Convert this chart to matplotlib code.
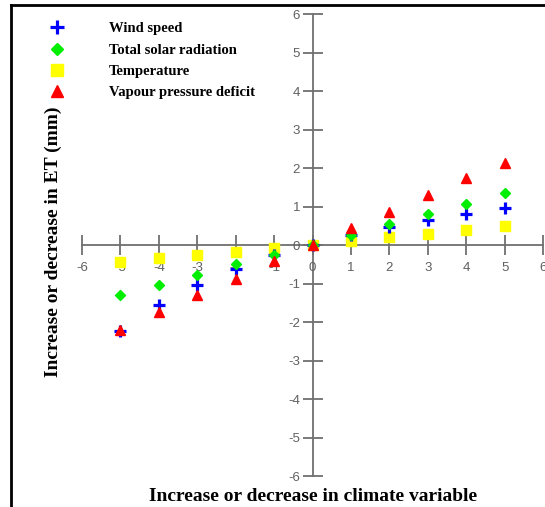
import matplotlib.pyplot as plt
from matplotlib.lines import Line2D

# climate variable change and ET response (mm)
change = [-5, -4, -3, -2, -1, 0, 1, 2, 3, 4, 5]
wind_speed = [-2.23, -1.55, -1.04, -0.63, -0.25, 0, 0.25, 0.46, 0.64, 0.81, 0.96]
solar_radiation = [-1.31, -1.04, -0.79, -0.50, -0.26, 0, 0.27, 0.55, 0.81, 1.07, 1.35]
temperature = [-0.45, -0.33, -0.26, -0.17, -0.07, 0, 0.10, 0.21, 0.29, 0.40, 0.49]
vapour_deficit = [-2.20, -1.74, -1.31, -0.87, -0.42, 0, 0.43, 0.87, 1.30, 1.73, 2.14]

ticks = [-6, -5, -4, -3, -2, -1, 0, 1, 2, 3, 4, 5, 6]

fig = plt.figure(figsize=(5.45, 5.07), dpi=100)
ax = fig.add_axes([0.1505, 0.0611, 0.8459, 0.9112])

h_temp, = ax.plot(change, temperature, 's', color='#ffff00', markersize=7.5, linestyle='none', clip_on=False)
h_wind, = ax.plot(change, wind_speed, '+', color='#0000ff', markersize=8, markeredgewidth=2.3, linestyle='none', clip_on=False)
h_solar, = ax.plot(change, solar_radiation, 'D', color='#00ee00', markersize=5.5, linestyle='none', clip_on=False)
h_vpd, = ax.plot(change, vapour_deficit, '^', color='#ff0000', markersize=7.5, linestyle='none', clip_on=False)

ax.set_xlim(-6, 6)
ax.set_ylim(-6, 6)
ax.spines['left'].set_position('zero')
ax.spines['bottom'].set_position('zero')
ax.spines['right'].set_visible(False)
ax.spines['top'].set_visible(False)
for s in ['left', 'bottom']:
    ax.spines[s].set_color('#707070')
    ax.spines[s].set_linewidth(1.3)
    ax.spines[s].set_zorder(0)

ax.set_xticks(ticks)
ax.set_yticks(ticks)
ax.set_xticklabels([str(t) for t in ticks])
ax.set_yticklabels([str(t) for t in ticks])
ax.tick_params(direction='inout', length=14, width=1.3, color='#707070',
               labelcolor='#606060', labelsize=9.5)
ax.tick_params(axis='x', pad=5)
ax.tick_params(axis='y', pad=2)
for lab in ax.get_xticklabels() + ax.get_yticklabels():
    lab.set_family('Liberation Sans')
ax.patch.set_alpha(0)

serif_bold = {'family': 'Liberation Serif', 'weight': 'bold'}
fig.text(0.574, 0.02, 'Increase or decrease in climate variable', ha='center', va='center',
         fontsize=14, **serif_bold)
fig.text(0.097, 0.523, 'Increase or decrease in ET (mm)', ha='center', va='center',
         rotation=90, fontsize=14, **serif_bold)

leg = fig.legend([h_wind, h_solar, h_temp, h_vpd],
                 ['Wind speed', 'Total solar radiation', 'Temperature', 'Vapour pressure deficit'],
                 loc='upper left', bbox_to_anchor=(0.0672, 0.982), frameon=False,
                 prop={'family': 'Liberation Serif', 'weight': 'bold', 'size': 10.5},
                 handletextpad=3.06, labelspacing=0.55, handlelength=1.0, markerscale=1.2)

# page frame lines (left and top)
fig.add_artist(Line2D([0.02, 0.02], [0.0, 0.99], color='black', linewidth=2, transform=fig.transFigure))
fig.add_artist(Line2D([0.02, 1.0], [0.99, 0.99], color='black', linewidth=2, transform=fig.transFigure))

fig.savefig('out.png', dpi=100)
